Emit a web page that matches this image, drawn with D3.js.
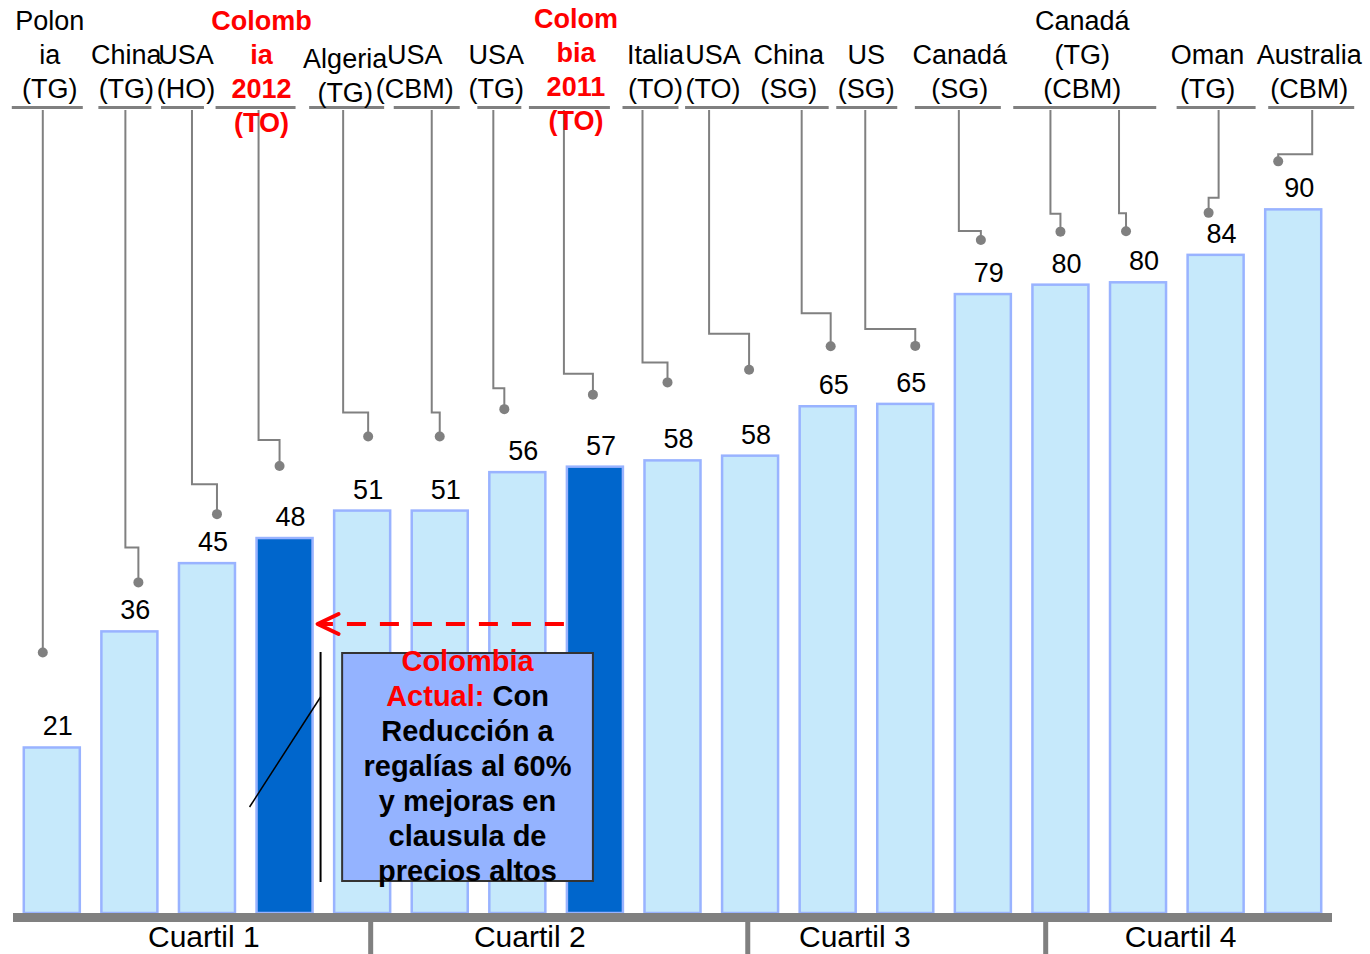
<!DOCTYPE html>
<html>
<head>
<meta charset="utf-8">
<script src="https://cdn.jsdelivr.net/npm/d3@7"></script>
<style>
  body { margin: 0; background: #fff; }
  svg text { font-family: "Liberation Sans", Arial, sans-serif; }
</style>
</head>
<body>
<svg id="chart" width="1370" height="954"></svg>
<script>
// ---- data ----
var values = [21.1, 35.9, 44.6, 47.8, 51.3, 51.3, 56.2, 56.9, 57.7, 58.3, 64.6, 64.9, 78.9, 80.1, 80.4, 83.9, 89.7];
var highlighted = [3, 7]; // Colombia 2012, Colombia 2011

var labelLines = [
  ["Polon", "ia", "(TG)"],
  ["China", "(TG)"],
  ["USA", "(HO)"],
  ["Colomb", "ia", "2012", "(TO)"],
  ["Algeria", "(TG)"],
  ["USA", "(CBM)"],
  ["USA", "(TG)"],
  ["Colom", "bia", "2011", "(TO)"],
  ["Italia", "(TO)"],
  ["USA", "(TO)"],
  ["China", "(SG)"],
  ["US", "(SG)"],
  ["Canadá", "(SG)"],
  ["Canadá", "(TG)", "(CBM)"],
  ["Oman", "(TG)"],
  ["Australia", "(CBM)"]
];
var labelBars = [[0], [1], [2], [3], [4], [5], [6], [7], [8], [9], [10], [11], [12], [13, 14], [15], [16]];
var labelRed = [false, false, false, true, false, false, false, true, false, false, false, false, false, false, false, false];

var quartiles = ["Cuartil 1", "Cuartil 2", "Cuartil 3", "Cuartil 4"];

var boxLines = [
  [["Colombia", "red"]],
  [["Actual: ", "red"], ["Con", "black"]],
  [["Reducción a", "black"]],
  [["regalías al 60%", "black"]],
  [["y mejoras en", "black"]],
  [["clausula de", "black"]],
  [["precios altos", "black"]]
];

// ---- layout (pixel tweaks relative to the scales) ----
// label: [dx from bar centre, underline left, underline right, last-line baseline]
var labelLayout = [
  [-2, -38, 33, 98], [-3, -28, 25, 98], [-21, -25, 18, 98], [-23, -46, 34, 132],
  [-17, -36, 39, 102], [-25, -21, 45, 98], [-21, -19, 25, 98], [-19, -47, 34, 130],
  [-17, -33, 23, 98], [-37, -28, 34, 98], [-39, -42, 40, 98], [-39, -30, 31, 98],
  [-23, -45, 41, 98], [-17, -69, 74, 98], [-8, -31, 48, 98], [16, -41, 45, 98]
];
// leader: [top dx, dot dx, gap above bar top, elbow rise above dot]
var leaderLayout = [
  [-9, -9, 95, 0], [-4, 9, 49, 35], [-15, 10, 49, 30], [-26, -5, 72, 26],
  [-19, 6, 74, 24], [-8, 0, 74, 24], [-24, -13, 63, 21], [-31, -2, 72, 21],
  [-30, -5, 78, 20], [-41, -1, 86, 36], [-26, 3, 60, 33], [-40, 10, 58, 17],
  [-24, -2, 54, 9], [-10, 0, 53, 18], [-19, -12, 51, 18], [3, -7, 42, 15], [19, -15, 48, 7]
];
var dividerPos = [4.11, 8.97, 12.81];       // in bar-index units
var quartilePos = [1.96, 6.16, 10.35, 14.55]; // in bar-index units

var svg = d3.select("#chart");
var baseY = 913;

var x = d3.scaleBand()
    .domain(d3.range(values.length))
    .range([13, 1332])
    .paddingInner(0.278)
    .paddingOuter(0.139);

var y = d3.scaleLinear()
    .domain([0, 90])
    .range([baseY, 207]);

var xc = function (i) { return x(i) + x.bandwidth() / 2; };
var xi = d3.scaleLinear().domain([0, values.length - 1]).range([xc(0), xc(values.length - 1)]);

// bars
svg.append("g").selectAll("rect")
    .data(values)
  .join("rect")
    .attr("x", function (d, i) { return x(i); })
    .attr("y", function (d) { return y(d); })
    .attr("width", x.bandwidth())
    .attr("height", function (d) { return baseY - y(d); })
    .attr("fill", function (d, i) { return highlighted.indexOf(i) >= 0 ? "#0066cc" : "#c6e9fb"; })
    .attr("stroke", "#99b3ff")
    .attr("stroke-width", 2.5);

// value labels
svg.append("g").selectAll("text")
    .data(values)
  .join("text")
    .attr("x", function (d, i) { return xc(i) + 6; })
    .attr("y", function (d) { return y(d) - 12; })
    .attr("text-anchor", "middle")
    .attr("font-size", 27)
    .attr("fill", "#000")
    .text(d3.format(".0f"));

// leader lines + dots
var leaders = svg.append("g");
values.forEach(function (v, i) {
  var L = leaderLayout[i];
  var top = xc(i) + L[0], dx = xc(i) + L[1];
  var dotY = y(v) - L[2], elbow = dotY - L[3];
  var path = d3.path();
  path.moveTo(top, 110);
  if (L[3] > 0) {
    path.lineTo(top, elbow);
    path.lineTo(dx, elbow);
  }
  path.lineTo(dx, dotY);
  leaders.append("path")
      .attr("d", path.toString())
      .attr("fill", "none")
      .attr("stroke", "#808080")
      .attr("stroke-width", 2);
  leaders.append("circle")
      .attr("cx", dx)
      .attr("cy", dotY)
      .attr("r", 5)
      .attr("fill", "#808080");
});

// category labels with underline
var lab = svg.append("g");
labelLines.forEach(function (lines, k) {
  var cx = d3.mean(labelBars[k], xc) + labelLayout[k][0];
  var last = labelLayout[k][3];
  var red = labelRed[k];
  lab.append("line")
      .attr("x1", cx + labelLayout[k][1])
      .attr("x2", cx + labelLayout[k][2])
      .attr("y1", 107.5).attr("y2", 107.5)
      .attr("stroke", "#808080")
      .attr("stroke-width", 3);
  lines.forEach(function (s, j) {
    lab.append("text")
        .attr("x", cx)
        .attr("y", last - (lines.length - 1 - j) * 34)
        .attr("text-anchor", "middle")
        .attr("font-size", 27)
        .attr("font-weight", red ? "bold" : "normal")
        .attr("fill", red ? "#ff0000" : "#000")
        .text(s);
  });
});

// axis band + quartile dividers
svg.append("rect")
    .attr("x", x.range()[0])
    .attr("y", baseY)
    .attr("width", x.range()[1] - x.range()[0])
    .attr("height", 9)
    .attr("fill", "#808080");

svg.append("g").selectAll("rect")
    .data(dividerPos)
  .join("rect")
    .attr("x", function (d) { return xi(d) - 2.5; })
    .attr("y", baseY + 9)
    .attr("width", 5)
    .attr("height", 954 - baseY - 9)
    .attr("fill", "#808080");

svg.append("g").selectAll("text")
    .data(quartiles)
  .join("text")
    .attr("x", function (d, i) { return xi(quartilePos[i]); })
    .attr("y", 947)
    .attr("text-anchor", "middle")
    .attr("font-size", 30)
    .attr("fill", "#000")
    .text(function (d) { return d; });

// red dashed arrow from Colombia 2011 back to Colombia 2012
var arrowY = 624;
var ax0 = x(7) - 3, ax1 = x(3) + x.bandwidth() + 5;
svg.append("line")
    .attr("x1", ax0).attr("x2", ax1 + 2)
    .attr("y1", arrowY).attr("y2", arrowY)
    .attr("stroke", "#ff0000")
    .attr("stroke-width", 4)
    .attr("stroke-dasharray", "19,14");
svg.append("path")
    .attr("d", "M" + (ax1 + 21) + "," + (arrowY - 10) + "L" + ax1 + "," + arrowY + "L" + (ax1 + 21) + "," + (arrowY + 10))
    .attr("fill", "none")
    .attr("stroke", "#ff0000")
    .attr("stroke-width", 4)
    .attr("stroke-linejoin", "round")
    .attr("stroke-linecap", "round");

// callout box
var boxX0 = x(4) + 8, boxX1 = x(7) + 26, boxY0 = 653, boxY1 = 881;
var brX = x(3) + x.bandwidth() + 8;
svg.append("line")
    .attr("x1", brX).attr("x2", brX)
    .attr("y1", boxY0 - 1).attr("y2", boxY1 + 1)
    .attr("stroke", "#000").attr("stroke-width", 2);
svg.append("line")
    .attr("x1", brX).attr("y1", 697)
    .attr("x2", x(3) - 7).attr("y2", 807)
    .attr("stroke", "#000").attr("stroke-width", 1.5);
svg.append("rect")
    .attr("x", boxX0).attr("y", boxY0)
    .attr("width", boxX1 - boxX0).attr("height", boxY1 - boxY0)
    .attr("fill", "#94b3ff")
    .attr("stroke", "#333")
    .attr("stroke-width", 2);

var boxText = svg.append("text")
    .attr("text-anchor", "middle")
    .attr("font-size", 29)
    .attr("font-weight", "bold");
boxLines.forEach(function (parts, j) {
  parts.forEach(function (p, m) {
    var t = boxText.append("tspan")
        .attr("fill", p[1] === "red" ? "#ff0000" : "#000")
        .text(p[0]);
    if (m === 0) t.attr("x", (boxX0 + boxX1) / 2).attr("y", 671 + j * 35);
  });
});
</script>
</body>
</html>
